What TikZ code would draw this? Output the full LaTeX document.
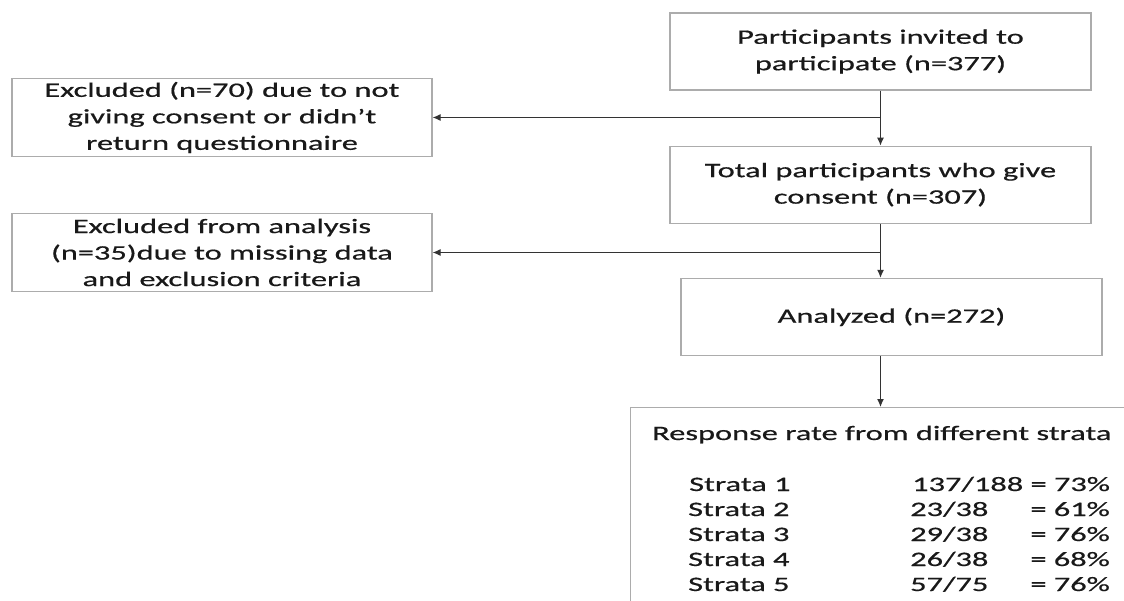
\documentclass[tikz,border=0pt]{standalone}
\usepackage{fontspec}
\setmainfont{Carlito}[FakeStretch=1.58, FakeBold=0.6]
\usetikzlibrary{positioning,arrows.meta}

\begin{document}
\begin{tikzpicture}[x=1pt, y=-1pt,
  box/.style={draw=gray!65, line width=1.2pt, align=center, inner sep=0pt, text=black!90, font=\fontsize{20.5}{26.5}\selectfont},
  flow/.style={box, minimum width=421pt, minimum height=77pt},
  side/.style={box, minimum width=420pt, minimum height=78pt},
  txt/.style={inner sep=0pt, text=black!90, font=\fontsize{20.5}{25}\selectfont},
  arr/.style={-{Latex[length=8pt, width=7pt]}, line width=1.1pt, draw=black!80},
]
\clip (0,0) rectangle (1124,601);
\fill[white] (0,0) rectangle (1124,601);

% main column
\node[flow] (invited) at (880.5,51.5) {Participants invited to\\participate (n=377)};
\node[flow, below=55pt of invited] (consent) {Total participants who give\\consent (n=307)};
\node[flow, below=54pt of consent, xshift=11pt] (analyzed) {Analyzed (n=272)};
\node[box, anchor=north west, minimum width=540pt, minimum height=230pt] (resp) at (630,407) {};

% exclusions
\node[side] (excl1) at (222,117.5) {Excluded (n=70) due to not\\giving consent or didn’t\\return questionnaire};
\node[side] (excl2) at (222,252.5) {Excluded from analysis\\(n=35)due to missing data\\and exclusion criteria};

% response rates
\node[txt, anchor=base west] (title) at (652,440) {Response rate from different strata};
\node[txt, anchor=base west] (s1) at (689,491) {Strata 1};
\node[txt, anchor=base west] (f1) at (912,491) {137/188 = 73\%};
\foreach \k/\num/\den/\pct in {2/23/38/61, 3/29/38/76, 4/26/38/68, 5/57/75/76} {
  \node[txt, anchor=base west] (s\k) at (688,{491+25*(\k-1)}) {Strata \k};
  \node[txt, anchor=base west] (f\k) at (910,{491+25*(\k-1)}) {\num/\den};
  \node[txt, anchor=base east] (p\k) at (1110,{491+25*(\k-1)}) {= \pct\%};
}

\draw[arr] (invited) -- (consent);
\draw[arr] (invited.south |- excl1.east) -- (excl1.east);
\draw[arr] (consent) -- (consent.south |- analyzed.north);
\draw[arr] (consent.south |- excl2.east) -- (excl2.east);
\draw[arr] (consent.south |- analyzed.south) -- (consent.south |- resp.north);
\end{tikzpicture}
\end{document}
